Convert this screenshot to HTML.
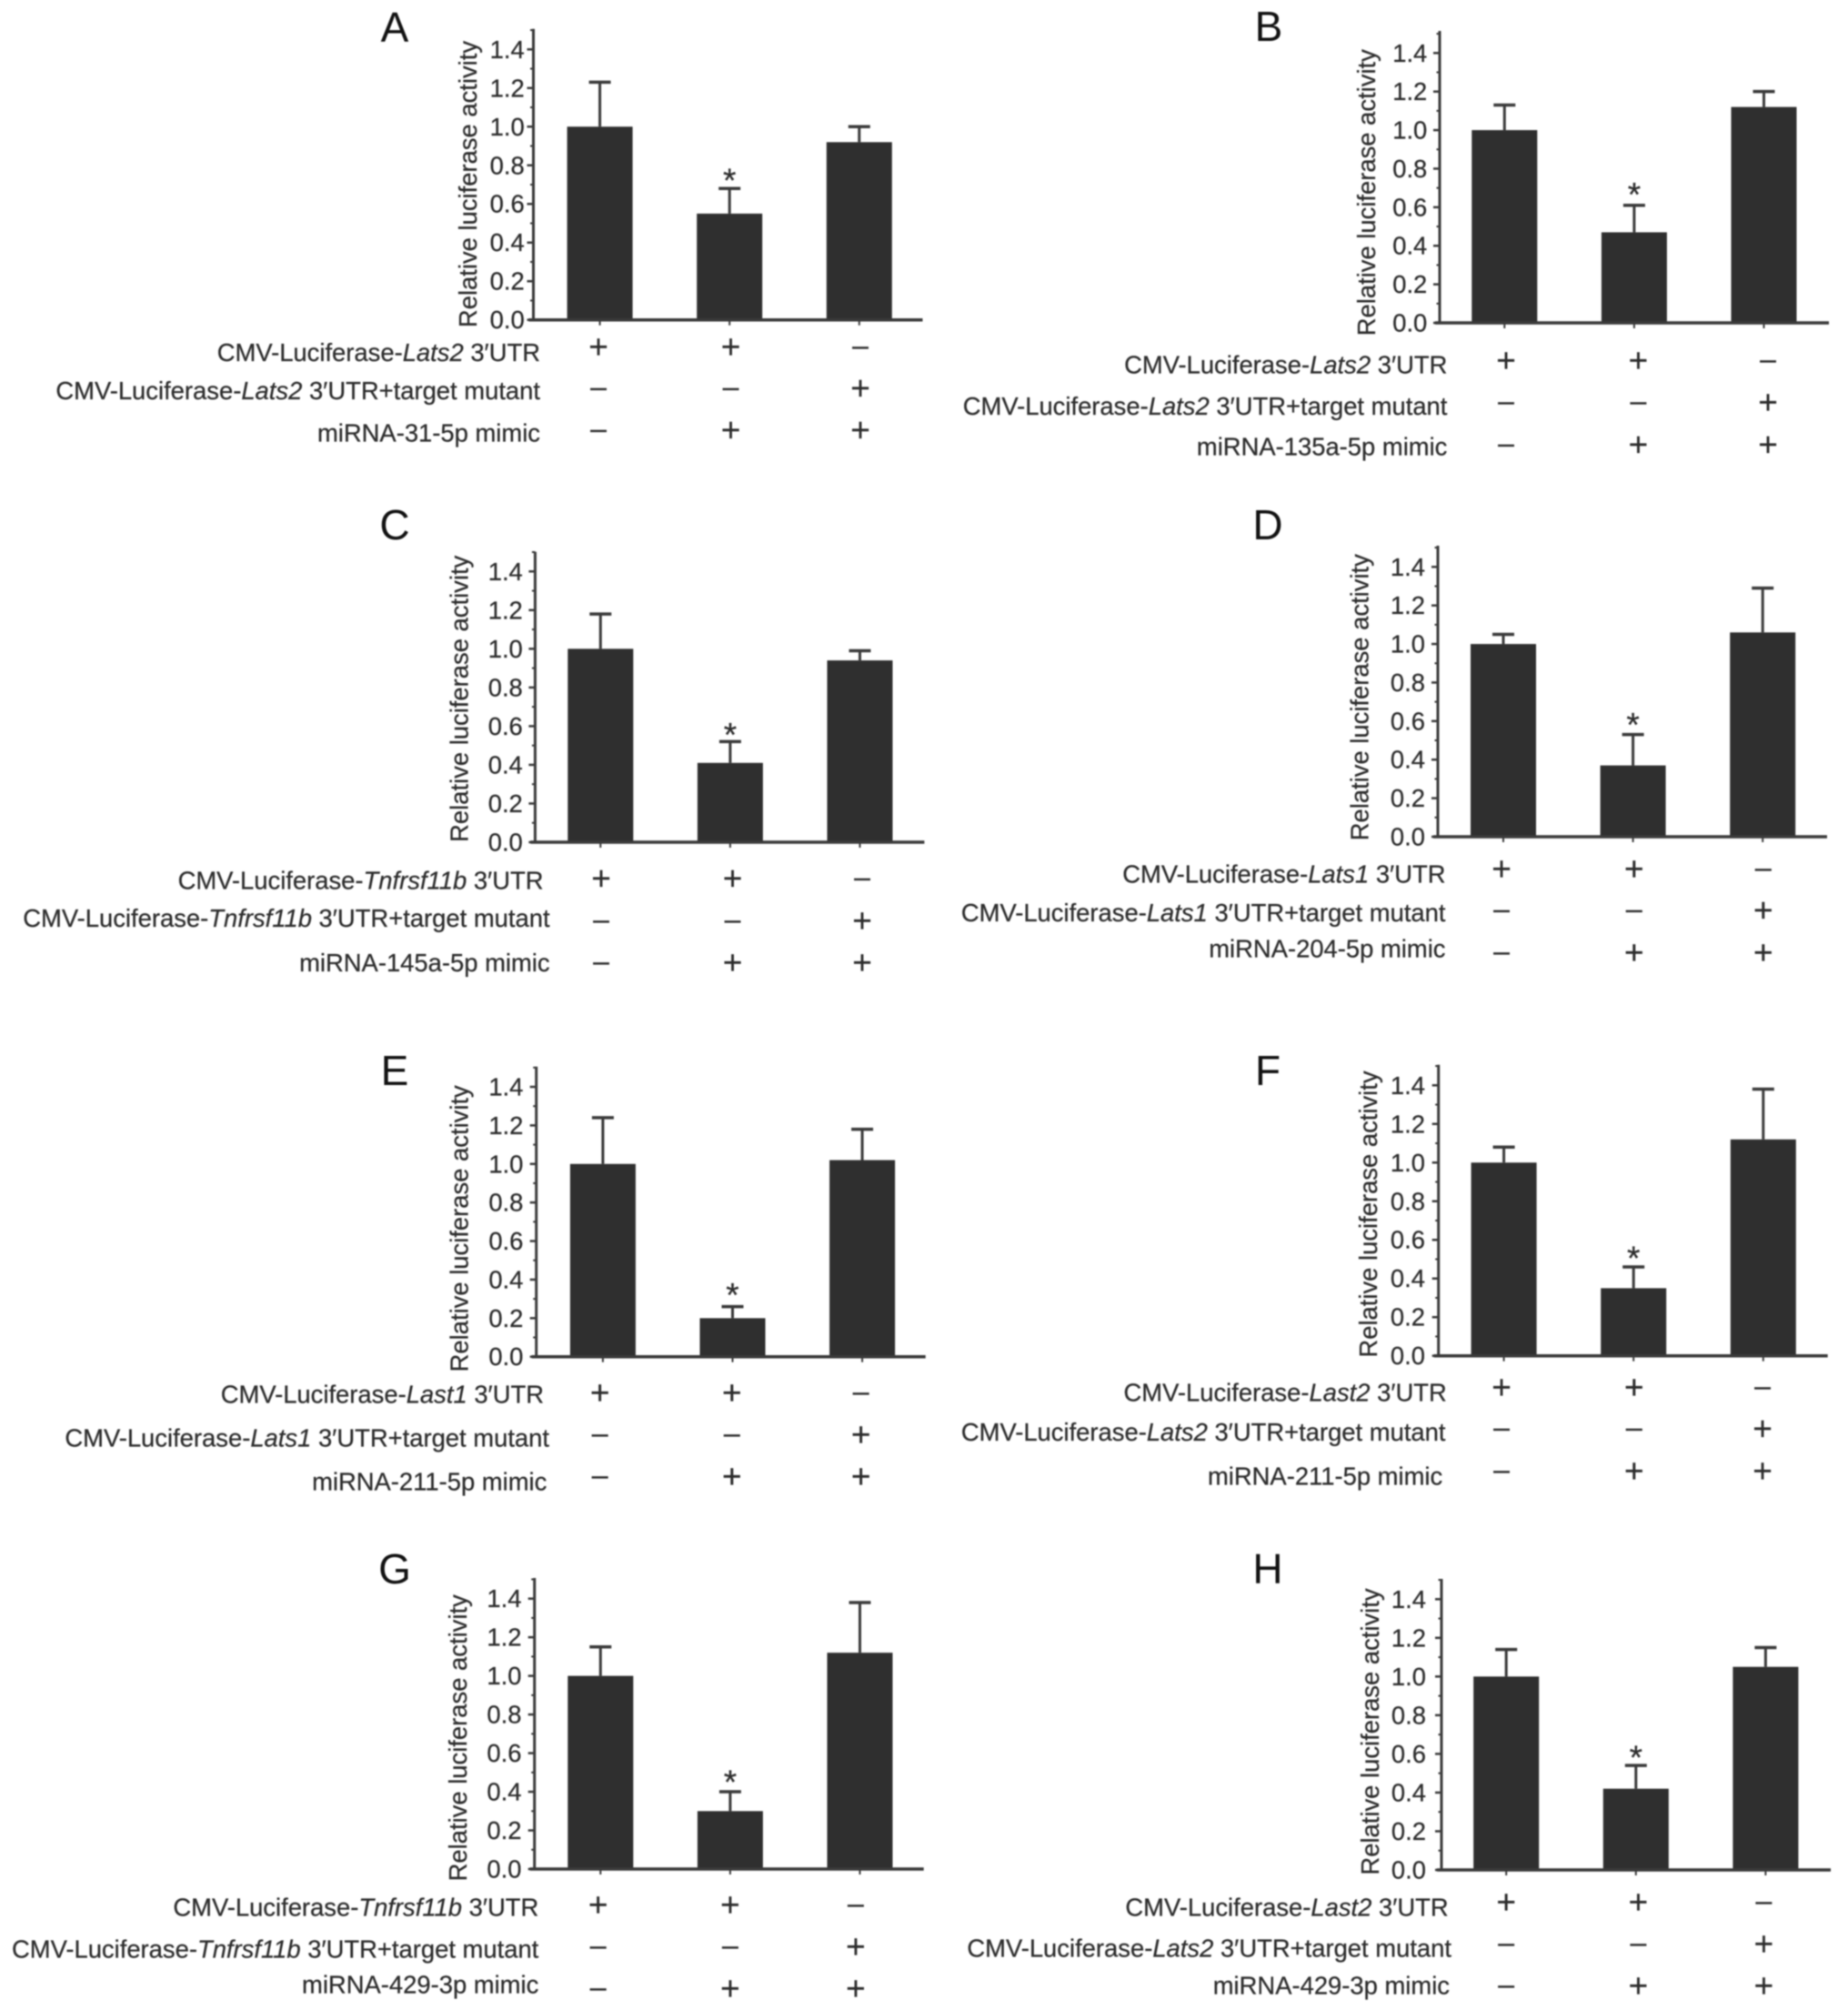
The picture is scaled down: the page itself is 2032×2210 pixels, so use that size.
<!DOCTYPE html>
<html lang="en">
<head>
<meta charset="utf-8">
<title>Relative luciferase activity panels</title>
<style>
html,body{margin:0;padding:0;background:#fff;width:2032px;height:2210px;overflow:hidden}
#figure{display:block;filter:blur(0.8px)}
text{font-family:"Liberation Sans",Arial,sans-serif;fill:#2c2c2c;stroke:#2c2c2c;stroke-width:0.25px}
</style>
</head>
<body>
<svg id="figure" xmlns="http://www.w3.org/2000/svg" width="2032" height="2210" viewBox="0 0 2032 2210"></svg>
<script>
// ---- chart data ----
const yTickLabels = ['0.0','0.2','0.4','0.6','0.8','1.0','1.2','1.4'];
const yMinorTicks = [0.1,0.3,0.5,0.7,0.9,1.1,1.3,1.5];
const signsRow1 = ['+','+','–'];
const signsRow2 = ['–','–','+'];
const signsRow3 = ['–','+','+'];
const starBar = 1;

const valuesA = [1.0,0.55,0.92];
const errorTopsA = [1.23,0.68,1.0];
const valuesB = [1.0,0.47,1.12];
const errorTopsB = [1.13,0.61,1.2];
const valuesC = [1.0,0.41,0.94];
const errorTopsC = [1.18,0.52,0.99];
const valuesD = [1.0,0.37,1.06];
const errorTopsD = [1.05,0.53,1.29];
const valuesE = [1.0,0.2,1.02];
const errorTopsE = [1.24,0.26,1.18];
const valuesF = [1.0,0.35,1.12];
const errorTopsF = [1.08,0.46,1.38];
const valuesG = [1.0,0.3,1.12];
const errorTopsG = [1.15,0.4,1.38];
const valuesH = [1.0,0.42,1.05];
const errorTopsH = [1.14,0.54,1.15];

const panelLetters = ['A','B','C','D','E','F','G','H'];
const panelValues = [valuesA,valuesB,valuesC,valuesD,valuesE,valuesF,valuesG,valuesH];
const panelErrorTops = [errorTopsA,errorTopsB,errorTopsC,errorTopsD,errorTopsE,errorTopsF,errorTopsG,errorTopsH];
const genesRow1 = ['Lats2','Lats2','Tnfrsf11b','Lats1','Last1','Last2','Tnfrsf11b','Last2'];
const genesRow2 = ['Lats2','Lats2','Tnfrsf11b','Lats1','Lats1','Lats2','Tnfrsf11b','Lats2'];
const mimics = ['miRNA-31-5p mimic','miRNA-135a-5p mimic','miRNA-145a-5p mimic','miRNA-204-5p mimic','miRNA-211-5p mimic','miRNA-211-5p mimic','miRNA-429-3p mimic','miRNA-429-3p mimic'];

// ---- layout of each panel on the page (not data) ----
const panelLayouts = [
 {ax:586.5,base:351.7,y14:54.3,top:31.7,bar0:659.6,lx:434,ly:46,yl:515,ylc:202.5,tr:576.7,lr:[594,594,594],ty:[388,430,476.7],sx:[658,803.5,946],sy:[381.7,427,473],gap:15},
 {ax:1583,base:355,y14:58.3,top:34,bar0:1654.3,lx:1395,ly:45,yl:1503,ylc:211.7,tr:1569.3,lr:[1591.4,1591.4,1591.4],ty:[401.7,447,491.7],sx:[1656,1801.4,1944],sy:[396.7,442.5,489],gap:18},
 {ax:588.4,base:926,y14:628.3,top:606.7,bar0:660.3,lx:434,ly:593,yl:505.4,ylc:768.3,tr:574.8,lr:[597.5,604.6,604.6],ty:[968.3,1010,1059],sx:[661,805.5,948],sy:[966,1012.3,1058.3],gap:14},
 {ax:1581,base:920,y14:623.3,top:600,bar0:1653,lx:1394,ly:593,yl:1495.5,ylc:766.7,tr:1567,lr:[1589.5,1589.5,1589.5],ty:[961.7,1004,1043.3],sx:[1651,1796.8,1938.8],sy:[955.7,1001,1047.7],gap:17},
 {ax:589.7,base:1491.7,y14:1195,top:1172.7,bar0:662.9,lx:434,ly:1193,yl:505.4,ylc:1350.8,tr:575.4,lr:[598,604,601.3],ty:[1533.3,1581.7,1629.3],sx:[659.7,804.8,946.7],sy:[1531.7,1577.3,1623.3],gap:19},
 {ax:1581.7,base:1490.7,y14:1193.3,top:1170.7,bar0:1653.6,lx:1394,ly:1193,yl:1505,ylc:1335,tr:1567,lr:[1590.8,1589.5,1586.2],ty:[1531.7,1575,1623.3],sx:[1651,1796.8,1938],sy:[1525.7,1571,1617.7],gap:16},
 {ax:587.7,base:2055,y14:1757.7,top:1735,bar0:660.3,lx:434,ly:1741,yl:504,ylc:1910.8,tr:573.5,lr:[592.3,592.3,592.3],ty:[2097.3,2143.3,2182.7],sx:[657.7,802.9,940.9],sy:[2094.3,2140.7,2186.7],gap:17},
 {ax:1585,base:2056,y14:1758.3,top:1736,bar0:1656.2,lx:1394,ly:1741,yl:1507,ylc:1904,tr:1568,lr:[1592.7,1596,1594],ty:[2097.3,2142.7,2183.3],sx:[1656.2,1801.4,1939.4],sy:[2091.7,2137.3,2183.3],gap:15}
];
const BAR_STEP = 142.6, BAR_W = 72, AXIS_LEN = 433, INK = '#2f2f2f', LINE = '#3a3a3a', FS = 27.4;

const NS = 'http://www.w3.org/2000/svg';
const svg = document.getElementById('figure');

function make(parent, tag, attrs, txt) {
  const el = document.createElementNS(NS, tag);
  for (const k in attrs) el.setAttribute(k, attrs[k]);
  if (txt !== undefined) el.textContent = txt;
  parent.appendChild(el);
  return el;
}

function yScale(layout, v) {
  return layout.base - (layout.base - layout.y14) / 1.4 * v;
}
function xScale(layout, i) {
  return layout.bar0 + BAR_STEP * i;
}

function drawRowLabel(g, x, y, prefix, gene, suffix, name) {
  const t = make(g, 'text', {x:x, y:y + 9, 'text-anchor':'end', 'font-size':FS});
  
  
  make(t, 'tspan', {}, prefix);
  if (gene) {
    make(t, 'tspan', {'font-style':'italic'}, gene);
    make(t, 'tspan', {}, suffix);
  }
}

function drawPanel(idx) {
  const L = panelLayouts[idx];
  const letter = panelLetters[idx];
  const values = panelValues[idx];
  const tops = panelErrorTops[idx];

  const g = make(svg, 'g', {});
  
  

  const lt = make(g, 'text', {x:L.lx, y:L.ly, 'text-anchor':'middle', 'font-size':46, style:'fill:#111;stroke:none'}, letter);
  
  

  // bars and error bars
  values.forEach(function (v, i) {
    const cx = xScale(L, i);
    const yv = yScale(L, v);
    const yt = yScale(L, tops[i]);
    const stem = make(g, 'line', {x1:cx, x2:cx, y1:yv, y2:yt, stroke:LINE, 'stroke-width':3});
    
    
    const cap = make(g, 'line', {x1:cx - 12, x2:cx + 12, y1:yt, y2:yt, stroke:LINE, 'stroke-width':3.5});
    
    
    const bar = make(g, 'rect', {x:cx - BAR_W / 2, y:yv, width:BAR_W, height:L.base - yv, fill:INK});
    
    
    const xt = make(g, 'line', {x1:cx, x2:cx, y1:L.base, y2:L.base + 6, stroke:LINE, 'stroke-width':2});
    
    
    if (i === starBar) {
      const st = make(g, 'text', {x:cx, y:yt - L.gap + 19, 'text-anchor':'middle', 'font-size':37}, '*');
      
      
    }
  });

  // axes
  const ya = make(g, 'line', {x1:L.ax, x2:L.ax, y1:L.top, y2:L.base + 1, stroke:LINE, 'stroke-width':3});
  
  
  const xa = make(g, 'line', {x1:L.ax - 5, x2:L.ax - 5 + AXIS_LEN, y1:L.base, y2:L.base, stroke:LINE, 'stroke-width':3.5});
  
  

  yTickLabels.forEach(function (label) {
    const y = yScale(L, parseFloat(label));
    const tick = make(g, 'line', {x1:L.ax - 7, x2:L.ax, y1:y, y2:y, stroke:LINE, 'stroke-width':2.5});
    
    
    const tl = make(g, 'text', {x:L.tr, y:y + 9.5, 'text-anchor':'end', 'font-size':FS}, label);
    
    
  });
  yMinorTicks.forEach(function (v) {
    const y = yScale(L, v);
    const tick = make(g, 'line', {x1:L.ax - 3.5, x2:L.ax, y1:y, y2:y, stroke:LINE, 'stroke-width':2});
    
    
  });

  const yl = make(g, 'text', {x:0, y:0, 'text-anchor':'middle', 'font-size':FS, transform:'translate(' + (L.yl + 9) + ' ' + L.ylc + ') rotate(-90)'}, 'Relative luciferase activity');
  
  

  // condition rows
  drawRowLabel(g, L.lr[0], L.ty[0], 'CMV-Luciferase-', genesRow1[idx], ' 3′UTR', 'row-label-reporter');
  drawRowLabel(g, L.lr[1], L.ty[1], 'CMV-Luciferase-', genesRow2[idx], ' 3′UTR+target mutant', 'row-label-mutant');
  drawRowLabel(g, L.lr[2], L.ty[2], mimics[idx], '', '', 'row-label-mimic');

  [signsRow1, signsRow2, signsRow3].forEach(function (row, r) {
    row.forEach(function (s, i) {
      const plus = s === '+';
      const t = make(g, 'text', {x:L.sx[i], y:L.sy[r] + (plus ? 12.5 : 9), 'text-anchor':'middle', 'font-size':plus ? 37 : 32}, s);
      
      
    });
  });
}

panelLetters.forEach(function (_, i) { drawPanel(i); });
</script>
</body>
</html>
